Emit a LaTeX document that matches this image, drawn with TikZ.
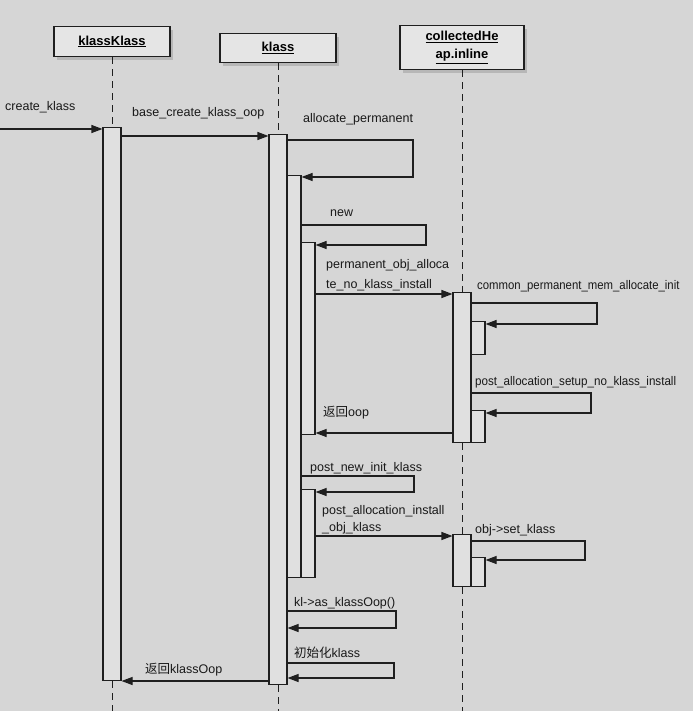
\documentclass[tikz,border=0pt]{standalone}
\usepackage{graphicx}
\usepackage{fontspec}
\setmainfont{Liberation Sans}
\newfontfamily\cjk{Noto Sans CJK SC}
\usetikzlibrary{arrows.meta,shadows}
\definecolor{bgc}{gray}{0.84}
\definecolor{barc}{gray}{0.88}
\definecolor{headc}{gray}{0.90}
\definecolor{linec}{gray}{0.12}
\begin{document}
\begin{tikzpicture}[x=1pt,y=-1pt,
  ln/.style={draw=linec, line width=1.1pt},
  head/.style={ln, fill=headc, inner sep=0pt, font=\fontsize{13}{17}\selectfont\bfseries, align=center,
    drop shadow={opacity=0.35, shadow xshift=3pt, shadow yshift=-4pt}},
  bar/.style={ln, fill=barc, inner sep=0pt, minimum width=18pt, anchor=north},
  sub/.style={bar, minimum width=14pt},
  life/.style={draw=linec, line width=1pt, dash pattern=on 7pt off 5pt},
  msg/.style={draw=linec, line width=1.1pt, -{Triangle[length=11pt,width=8pt]}},
  lbl/.style={font=\fontsize{12.5}{14}\selectfont, text=black!90, inner sep=0pt, anchor=base west}]
\fill[bgc] (0,0) rectangle (693,711);
\useasboundingbox (0,0) rectangle (693,711);

% heads
\node[head, minimum width=116pt, minimum height=30pt] (HA) at (112,41.5) {\underline{klassKlass}};
\node[head, minimum width=116pt, minimum height=29pt] (HB) at (278,48) {\underline{klass}};
\node[head, minimum width=124pt, minimum height=44pt] (HC) at (462,47.5) {\underline{collectedHe}\\[1pt]\underline{ap.inline}};

% lifeline ends
\coordinate (Aend) at (112,711);
\coordinate (Bend) at (278,711);
\coordinate (Cend) at (462,711);

% bar tops
\path (112,127) coordinate (A0t) (278,134) coordinate (B0t) (462,292) coordinate (C0t) (462,534) coordinate (C0bt);

\draw[life] (HA.south) -- (A0t);
\draw[life] (HB.south) -- (B0t);
\draw[life] (HC.south) -- (C0t);

\node[bar, minimum height=553pt] (A0) at (A0t) {};
\node[bar, minimum height=550pt] (B0) at (B0t) {};
\node[sub, minimum height=402pt] (B1) at (294,175) {};
\node[sub, minimum height=192pt] (B2) at (308,242) {};
\node[sub, minimum height=88pt] (B2b) at (308,489) {};
\node[bar, minimum height=150pt] (C0) at (C0t) {};
\node[sub, minimum height=33pt] (C1) at (478,321) {};
\node[sub, minimum height=32pt] (C2) at (478,410) {};
\draw[life] (C0.south) -- (C0bt);
\node[bar, minimum height=52pt] (C0b) at (C0bt) {};
\node[sub, minimum height=29pt] (C1b) at (478,557) {};

\draw[life] (A0.south) -- (Aend);
\draw[life] (B0.south) -- (Bend);
\draw[life] (C0b.south) -- (Cend);

% messages
\coordinate (src) at (0,129);
\draw[msg] (src) -- (A0.west |- src);
\node[lbl] at (5,111) {create\_klass};

\draw[msg] (A0.east |- 0,136) -- (B0.west |- 0,136);
\node[lbl] at (132,117) {base\_create\_klass\_oop};

\draw[msg] (B0.east |- 0,140) -- (413,140) -- (413,177) -- (B1.east |- 0,177);
\node[lbl] at (303,123) {allocate\_permanent};

\draw[msg] (B1.east |- 0,225) -- (426,225) -- (426,245) -- (B2.east |- 0,245);
\node[lbl] at (330,217) {new};

\draw[msg] (B2.east |- 0,294) -- (C0.west |- 0,294);
\node[lbl] at (326,268) {permanent\_obj\_alloca};
\node[lbl] at (326,288) {te\_no\_klass\_install};

\draw[msg] (C0.east |- 0,303) -- (597,303) -- (597,324) -- (C1.east |- 0,324);
\node[lbl] at (477,289) {\scalebox{0.91}[1]{common\_permanent\_mem\_allocate\_init}};

\draw[msg] (C0.east |- 0,393) -- (591,393) -- (591,413) -- (C2.east |- 0,413);
\node[lbl] at (475,385) {\scalebox{0.93}[1]{post\_allocation\_setup\_no\_klass\_install}};

\draw[msg] (C0.west |- 0,433) -- (B2.east |- 0,433);
\node[lbl] at (323,416) {{\cjk 返回}oop};

\draw[msg] (B1.east |- 0,476) -- (414,476) -- (414,492) -- (B2b.east |- 0,492);
\node[lbl] at (310,471) {post\_new\_init\_klass};

\draw[msg] (B2b.east |- 0,536) -- (C0b.west |- 0,536);
\node[lbl] at (322,514) {post\_allocation\_install};
\node[lbl] at (322,531) {\_obj\_klass};

\draw[msg] (C0b.east |- 0,541) -- (585,541) -- (585,560) -- (C1b.east |- 0,560);
\node[lbl] at (475,533) {obj->set\_klass};

\draw[msg] (B0.east |- 0,611) -- (396,611) -- (396,628) -- (B0.east |- 0,628);
\node[lbl] at (294,606) {kl->as\_klassOop()};

\draw[msg] (B0.east |- 0,663) -- (394,663) -- (394,678) -- (B0.east |- 0,678);
\node[lbl] at (294,657) {{\cjk 初始化}klass};

\draw[msg] (B0.west |- 0,681) -- (A0.east |- 0,681);
\node[lbl] at (145,673) {{\cjk 返回}klassOop};
\end{tikzpicture}
\end{document}
